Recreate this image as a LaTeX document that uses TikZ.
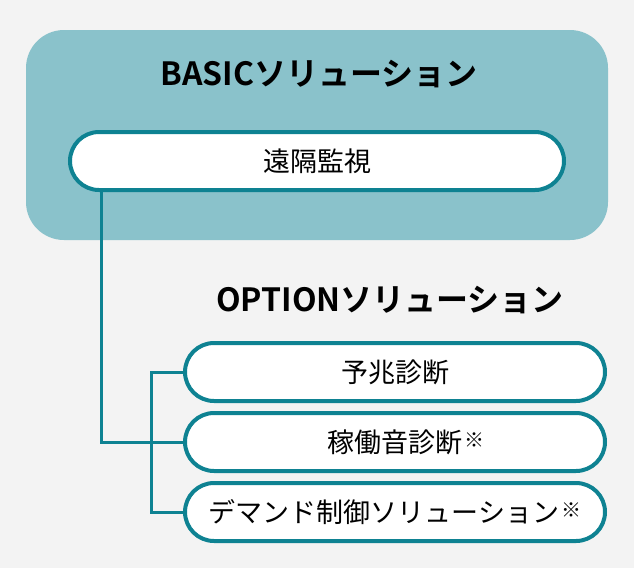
\documentclass[tikz,border=0pt]{standalone}
\usepackage{fontspec}
\newfontfamily\jp{Noto Sans CJK JP}
\newfontfamily\jpbold{Noto Sans CJK JP Bold}
\usetikzlibrary{shapes.misc}
\definecolor{bgc}{RGB}{243,243,243}
\definecolor{boxc}{RGB}{138,194,203}
\definecolor{tealc}{RGB}{14,130,146}
\pgfdeclarelayer{bottomlayer}
\pgfdeclarelayer{midlayer}
\pgfsetlayers{bottomlayer,midlayer,main}
\newcommand{\kome}{\hspace{2pt}\raisebox{5pt}{\fontsize{20}{20}\selectfont ※}}
\begin{document}
\begin{tikzpicture}[x=1pt,y=-1pt,
  pill/.style={rounded rectangle, draw=tealc, line width=4pt, fill=white,
    minimum height=58pt, inner sep=0pt, font=\jp\fontsize{27}{32}\selectfont},
  conn/.style={draw=tealc, line width=3pt},
  ttl/.style={font=\jpbold\fontsize{32}{38}\selectfont, inner sep=0pt}]
\begin{pgfonlayer}{bottomlayer}
\fill[bgc] (0,0) rectangle (634,568);
\node[fill=boxc, rounded corners=38pt, minimum width=582pt, minimum height=210pt, inner sep=0pt] (basic) at (317,135) {};
\end{pgfonlayer}
\useasboundingbox (0,0) rectangle (634,568);
\node[ttl] (basict) at (319,74) {BASICソリューション};
\node[ttl] (optt) at (390,300) {OPTIONソリューション};
\coordinate (a) at (101,0);
\coordinate (b) at (151,0);
\node[pill, minimum width=494pt] (p0) at (317,161) {遠隔監視};
\node[pill, minimum width=420pt] (o1) at (395,372) {予兆診断};
\node[pill, minimum width=420pt] (o2) at (395,442) {稼働音診断\rlap{\kome}};
\node[pill, minimum width=420pt] (o3) at (395,512) {デマンド制御ソリューション\kome};
\begin{pgfonlayer}{midlayer}
\draw[conn] (a |- p0.south) |- (o2.west);
\draw[conn] (o1.west) -- (o1.west -| b) -- (o3.west -| b) -- (o3.west);
\end{pgfonlayer}
\end{tikzpicture}
\end{document}
